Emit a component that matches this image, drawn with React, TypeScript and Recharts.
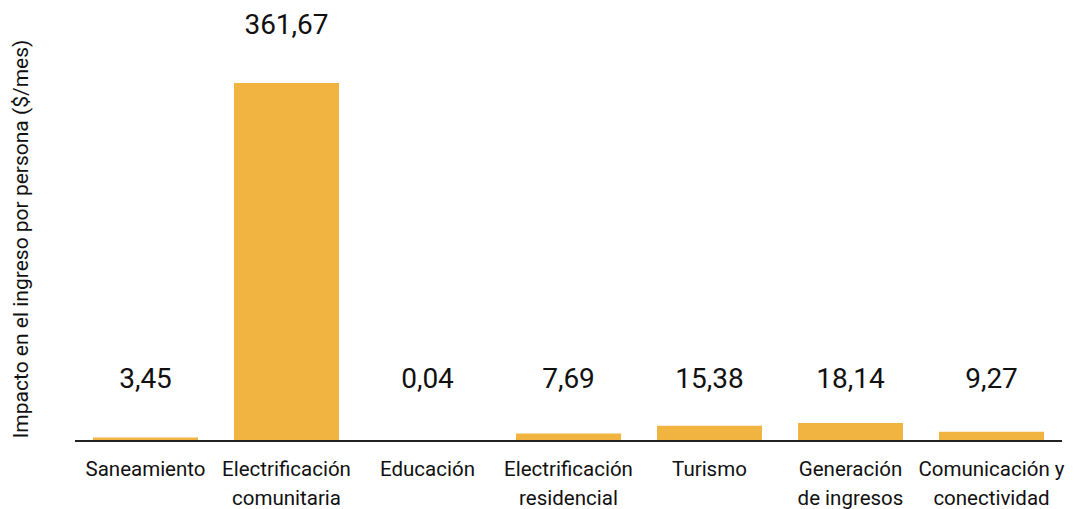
import { BarChart, Bar, XAxis, YAxis, LabelList } from "recharts";

document.body.style.margin = "0";

const categories = [
  "Saneamiento",
  "Electrificación comunitaria",
  "Educación",
  "Electrificación residencial",
  "Turismo",
  "Generación de ingresos",
  "Comunicación y conectividad",
];
const impacto = [3.45, 361.67, 0.04, 7.69, 15.38, 18.14, 9.27];

const tickLines: Record<string, string[]> = {
  "Saneamiento": ["Saneamiento"],
  "Electrificación comunitaria": ["Electrificación", "comunitaria"],
  "Educación": ["Educación"],
  "Electrificación residencial": ["Electrificación", "residencial"],
  "Turismo": ["Turismo"],
  "Generación de ingresos": ["Generación", "de ingresos"],
  "Comunicación y conectividad": ["Comunicación y", "conectividad"],
};

const data = categories.map((c, i) => ({ name: c, value: impacto[i] }));

const FONT = "Roboto, sans-serif";
const BAR = "#F2B441";

function Tick({ x, y, payload }: any) {
  const lines = tickLines[payload.value] || [payload.value];
  return (
    <text x={x} y={y + 27} textAnchor="middle" fill="#111" fontSize={20.5} fontFamily={FONT}>
      {lines.map((l, i) => (
        <tspan key={i} x={x} dy={i === 0 ? 0 : 29}>
          {l}
        </tspan>
      ))}
    </text>
  );
}

function ValueLabel({ x, y, width, height, value }: any) {
  const base = y + height;
  const ty = height > 100 ? y - 56 : base - 60;
  return (
    <text
      x={x + width / 2}
      y={ty}
      textAnchor="middle"
      dominantBaseline="middle"
      fill="#111"
      fontSize={28}
      fontFamily={FONT}
    >
      {Number(value).toFixed(2).replace(".", ",")}
    </text>
  );
}

export default function App() {
  return (
    <div style={{ width: 1079, height: 509, background: "#fff" }}>
      <BarChart
        width={1079}
        height={509}
        data={data}
        margin={{ top: 83, right: 17, bottom: 0, left: 75 }}
        barCategoryGap={18}
      >
        <YAxis hide domain={[0, "dataMax"]} />
        <XAxis
          dataKey="name"
          interval={0}
          height={68}
          tickLine={false}
          axisLine={{ stroke: "#222", strokeWidth: 2 }}
          tick={<Tick />}
        />
        <Bar dataKey="value" fill={BAR} isAnimationActive={false}>
          <LabelList dataKey="value" content={<ValueLabel />} />
        </Bar>
        <text
          x={22}
          y={239}
          transform="rotate(-90 22 239)"
          textAnchor="middle"
          dominantBaseline="middle"
          fontSize={21}
          fontFamily={FONT}
          fill="#111"
        >
          Impacto en el ingreso por persona ($/mes)
        </text>
      </BarChart>
    </div>
  );
}
